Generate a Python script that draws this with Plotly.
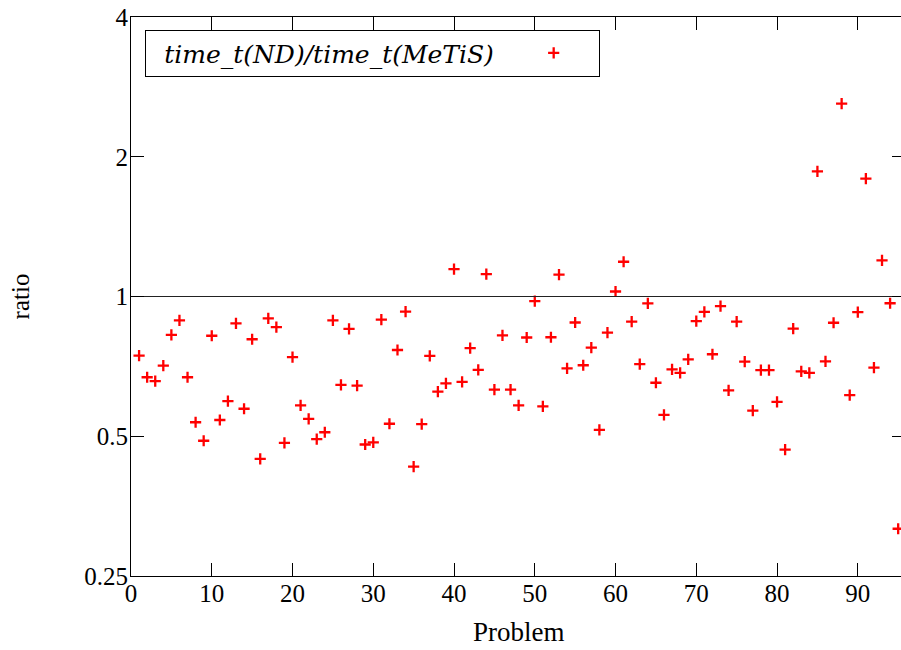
import math
import plotly.graph_objects as go

problems = list(range(1, 96))
ratio = [
    0.746, 0.670, 0.657, 0.710, 0.827, 0.888, 0.670, 0.536, 0.489, 0.823,
    0.542, 0.595, 0.875, 0.573, 0.809, 0.447, 0.897, 0.859, 0.484, 0.740,
    0.583, 0.545, 0.493, 0.510, 0.888, 0.645, 0.852, 0.643, 0.480, 0.485,
    0.892, 0.532, 0.767, 0.928, 0.430, 0.531, 0.745, 0.624, 0.650, 1.145,
    0.655, 0.774, 0.695, 1.117, 0.630, 0.825, 0.630, 0.583, 0.816, 0.977,
    0.580, 0.817, 1.115, 0.700, 0.879, 0.711, 0.776, 0.516, 0.836, 1.025,
    1.188, 0.883, 0.715, 0.966, 0.652, 0.556, 0.697, 0.685, 0.732, 0.885,
    0.927, 0.751, 0.953, 0.628, 0.883, 0.724, 0.568, 0.694, 0.694, 0.593,
    0.468, 0.853, 0.690, 0.685, 1.860, 0.725, 0.878, 2.603, 0.613, 0.925,
    1.794, 0.703, 1.196, 0.967, 0.316,
]
x_ticks = [0, 10, 20, 30, 40, 50, 60, 70, 80, 90]
y_ticks = [0.25, 0.5, 1, 2, 4]
y_tick_labels = ["0.25", "0.5", "1", "2", "4"]
series_name = "time_t(ND)/time_t(MeTiS)"
x_max = 95.35
y_range = [math.log10(0.25), math.log10(4)]

serif = "Liberation Serif"
serif_it = "DejaVu Serif"
lead = "\u00a0" * 2
pad = "\u00a0" * 4

fig = go.Figure()
fig.add_trace(go.Scatter(
    x=problems, y=ratio, mode="markers", name="",
    marker=dict(symbol="cross-thin", size=8, color="red",
                line=dict(width=2.3, color="red")),
    showlegend=True, hoverinfo="x+y",
))
fig.add_trace(go.Scatter(
    x=[0, x_max], y=[1, 1], mode="lines",
    line=dict(color="#222222", width=1.2),
    showlegend=False, hoverinfo="skip", yaxis="y2",
))

fig.update_layout(
    width=901, height=650,
    margin=dict(l=131, r=0, t=17, b=74),
    paper_bgcolor="white", plot_bgcolor="white",
    xaxis=dict(
        range=[0, x_max], tickvals=x_ticks, ticks="inside", ticklen=13,
        tickcolor="black", tickwidth=1, showline=True, linecolor="black",
        linewidth=1, mirror="ticks", showgrid=False, zeroline=False,
        tickfont=dict(family=serif, size=25, color="black"),
        ticklabelstandoff=-5,
    ),
    yaxis=dict(
        type="log", range=y_range, tickvals=y_ticks, ticktext=y_tick_labels,
        ticks="inside", ticklen=13, tickcolor="black", tickwidth=1,
        showline=True, linecolor="black", linewidth=1, mirror=False,
        showgrid=False, zeroline=False,
        tickfont=dict(family=serif, size=25, color="black"),
        ticklabelstandoff=-3,
    ),
    yaxis2=dict(
        type="log", range=y_range, tickvals=y_ticks, overlaying="y",
        side="right", ticks="inside", ticklen=9, tickcolor="black",
        showticklabels=False, showline=False, showgrid=False, zeroline=False,
    ),
    showlegend=True,
    legend=dict(
        x=0.0185, y=0.977, xanchor="left", yanchor="top",
        orientation="h", bordercolor="black", borderwidth=1, bgcolor="white",
        valign="middle",
        title=dict(text=lead + "<i>" + series_name + "</i>" + pad, side="left",
                   font=dict(family=serif_it, size=25, color="black")),
        font=dict(family=serif, size=24),
        entrywidth=20, itemwidth=30,
    ),
    annotations=[
        dict(text="Problem", xref="paper", yref="paper", x=0.504, y=-0.1,
             xanchor="center", yanchor="middle", showarrow=False,
             font=dict(family=serif, size=27, color="black")),
        dict(text="ratio", xref="paper", yref="paper", x=-0.143, y=0.5,
             xanchor="center", yanchor="middle", showarrow=False,
             textangle=-90, font=dict(family=serif, size=25, color="black")),
    ],
)

fig.write_html("out.html")
